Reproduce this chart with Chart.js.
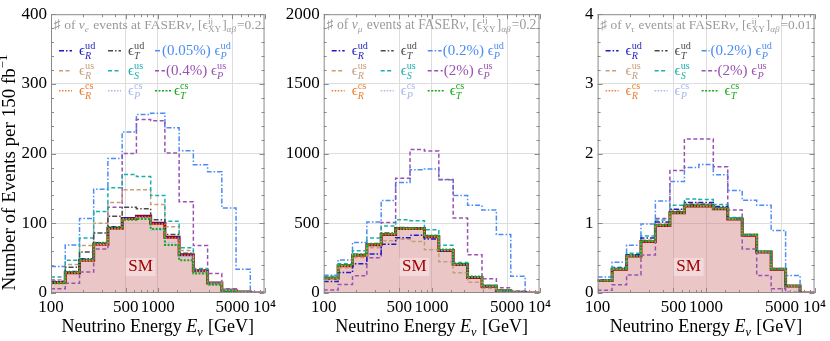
<!DOCTYPE html>
<html>
<head>
<meta charset="utf-8">
<script src="https://cdn.jsdelivr.net/npm/chart.js@4.4.1/dist/chart.umd.min.js"></script>
<style>
  html, body { margin: 0; padding: 0; background: #fff; }
  #wrap { position: relative; width: 830px; height: 341px; overflow: hidden; }
  canvas { position: absolute; top: 0; }
</style>
</head>
<body>
<div id="wrap">
  <canvas id="c1" width="280" height="341" style="left:0px"></canvas>
  <canvas id="c2" width="275" height="341" style="left:280px"></canvas>
  <canvas id="c3" width="275" height="341" style="left:555px"></canvas>
</div>
<script>
// 15 log bins from 100 GeV to 10^4 GeV
const binEdges = [100, 136, 185, 251, 341, 464, 631, 858, 1166, 1585, 2154, 2929, 3981, 5412, 7356, 10000];
const xLabelValues = [100, 500, 1000, 5000, 10000];
const xLabelTexts = ["100", "500", "1000", "5000", "10⁴"];

// nu_e events
const eSM  = [15, 29, 47, 70, 93, 107, 110, 100, 80, 55, 32, 14.5, 4, 1.5, 0];
const eRud = [16, 31, 49, 72, 95, 108, 110, 100, 80, 55, 32, 14, 4, 1.5, 0];
const eTud = [17, 37, 59, 86, 110, 123, 121, 105, 84, 57, 33, 14, 4, 1.5, 0];
const ePud = [38, 69, 107, 149, 193, 231, 256, 258, 237, 204, 184, 174, 122, 34, 0];
const eRus = [19, 41, 68, 100, 130, 148, 148, 127, 95, 61, 33, 15, 4, 1.5, 0];
const eSus = [23, 47, 79, 117, 151, 170, 167, 140, 103, 65, 35, 15, 5, 1.5, 0];
const ePus = [6, 14, 30, 63, 123, 200, 249, 247, 201, 131, 68, 28, 6, 2, 0];
const eRcs = [15, 29, 46, 69, 92, 106, 109, 99, 79, 54, 32, 14, 4, 1.5, 0];
const ePcs = [15, 29, 47, 70, 92, 106, 108, 90, 72, 52, 30, 13, 4, 1.5, 0];
const eTcs = [14, 30, 48, 72, 94, 105, 106, 92, 69, 47, 28, 12, 3, 1, 0];

// nu_mu events
const mSM  = [105, 195, 270, 347, 420, 462, 462, 404, 305, 204, 112, 49, 17, 6, 0];
const mRud = [82, 147, 210, 280, 350, 397, 415, 388, 300, 204, 113, 49, 17, 6, 0];
const mTud = [112, 200, 278, 355, 430, 470, 468, 412, 310, 208, 115, 50, 17, 6, 0];
const mPud = [128, 237, 363, 510, 664, 793, 885, 890, 812, 699, 629, 595, 420, 120, 0];
const mRus = [98, 180, 255, 325, 375, 385, 370, 310, 225, 145, 78, 33, 13, 5, 0];
const mSus = [120, 209, 303, 394, 480, 526, 519, 453, 343, 218, 115, 56, 19, 6, 0];
const mPus = [21, 61, 124, 253, 505, 824, 1030, 1018, 815, 538, 274, 102, 38, 14, 0];
const mRcs = [104, 194, 268, 345, 418, 460, 460, 402, 304, 203, 111, 48, 17, 6, 0];
const mPcs = [106, 196, 272, 349, 422, 463, 463, 405, 306, 205, 113, 49, 17, 6, 0];
const mTcs = [110, 200, 275, 352, 425, 465, 465, 410, 312, 210, 118, 52, 18, 6, 0];

// nu_tau events
const tSM  = [0.18, 0.34, 0.53, 0.74, 0.97, 1.15, 1.25, 1.25, 1.21, 1.06, 0.83, 0.59, 0.34, 0.1, 0];
const tRud = [0.185, 0.355, 0.55, 0.79, 1.02, 1.2, 1.3, 1.3, 1.24, 1.07, 0.83, 0.59, 0.34, 0.1, 0];
const tTud = [0.18, 0.345, 0.54, 0.75, 0.98, 1.17, 1.27, 1.27, 1.22, 1.06, 0.83, 0.59, 0.34, 0.1, 0];
const tPud = [0.23, 0.44, 0.685, 0.99, 1.32, 1.6, 1.8, 1.845, 1.695, 1.47, 1.33, 1.26, 0.897, 0.25, 0];
const tRus = [0.18, 0.35, 0.54, 0.76, 1.0, 1.19, 1.29, 1.28, 1.23, 1.07, 0.83, 0.59, 0.34, 0.1, 0];
const tSus = [0.19, 0.37, 0.57, 0.817, 1.047, 1.258, 1.35, 1.343, 1.27, 1.085, 0.84, 0.6, 0.35, 0.1, 0];
const tPus = [0.04, 0.12, 0.26, 0.545, 1.07, 1.756, 2.21, 2.21, 1.81, 1.19, 0.63, 0.25, 0.06, 0.01, 0];
const tRcs = [0.18, 0.34, 0.53, 0.74, 0.97, 1.15, 1.25, 1.25, 1.21, 1.06, 0.83, 0.59, 0.34, 0.1, 0];
const tPcs = [0.18, 0.34, 0.53, 0.74, 0.97, 1.15, 1.25, 1.25, 1.21, 1.06, 0.83, 0.59, 0.34, 0.1, 0];
const tTcs = [0.18, 0.345, 0.535, 0.745, 0.975, 1.155, 1.255, 1.255, 1.215, 1.065, 0.835, 0.595, 0.345, 0.1, 0];

const yMaxes = [400, 2000, 4];
const yMinorSteps = [20, 100, 0.2];
const yMajorSteps = [100, 500, 1];
const flavours = ["e", "μ", "τ"];
const couplings = ["0.2", "0.2", "0.01"];
const pctPud = ["(0.05%) ", "(0.2%) ", "(0.2%) "];
const pctPus = ["(0.4%) ", "(2%) ", "(2%) "];

const FONT = '"Liberation Serif", "DejaVu Serif", serif';

const styles = {
  SM:  { color: "#a30000", dash: [], width: 3 },
  Rud: { color: "#1c1cc4", dash: [5, 2, 1.5, 2], width: 1.5 },
  Tud: { color: "#4a4a4a", dash: [5, 2, 1.5, 2], width: 1.5 },
  Pud: { color: "#4b8cf5", dash: [5, 2, 1.5, 2], width: 1.5 },
  Rus: { color: "#c49e7a", dash: [4, 2.5], width: 1.5 },
  Sus: { color: "#1aafaf", dash: [4, 2.5], width: 1.5 },
  Pus: { color: "#9a52b2", dash: [4, 2.5], width: 1.5 },
  Rcs: { color: "#ee7d30", dash: [1.5, 1.5], width: 1.5 },
  Pcs: { color: "#a6b8ea", dash: [1.5, 1.5], width: 1.5 },
  Tcs: { color: "#17a817", dash: [2, 1.5], width: 2 }
};
// drawn bottom to top
const drawOrder = ["SM", "Pud", "Pus", "Rus", "Sus", "Tud", "Rud", "Pcs", "Rcs", "Tcs"];
const legendSub = { Rud: ["ud", "R"], Tud: ["ud", "T"], Pud: ["ud", "P"], Rus: ["us", "R"], Sus: ["us", "S"],
                    Pus: ["us", "P"], Rcs: ["cs", "R"], Pcs: ["cs", "P"], Tcs: ["cs", "T"] };
const legendRows = [["Rud", "Tud", "Pud"], ["Rus", "Sus", "Pus"], ["Rcs", "Pcs", "Tcs"]];

const panelSeries = [
  { SM: eSM, Rud: eRud, Tud: eTud, Pud: ePud, Rus: eRus, Sus: eSus, Pus: ePus, Rcs: eRcs, Pcs: ePcs, Tcs: eTcs },
  { SM: mSM, Rud: mRud, Tud: mTud, Pud: mPud, Rus: mRus, Sus: mSus, Pus: mPus, Rcs: mRcs, Pcs: mPcs, Tcs: mTcs },
  { SM: tSM, Rud: tRud, Tud: tTud, Pud: tPud, Rus: tRus, Sus: tSus, Pus: tPus, Rcs: tRcs, Pcs: tPcs, Tcs: tTcs }
];

// layout of the three panels
const yAxisWidths = [51, 43.7, 42.6];
const rightPads = [10, 10, 11];
const col3Label = [[111, 115, 123], [119, 120, 126], [113, 120, 127]];

function steps(vals) {
  return binEdges.map((e, i) => ({ x: e, y: vals[Math.min(i, vals.length - 1)] }));
}

function font(size, italic) {
  return (italic ? "italic " : "") + size + "px " + FONT;
}

// draws text made of runs: strings, {t, i}, or {sup, sub, supI, subI}
function drawRuns(ctx, x, y, runs, size, color, dry) {
  const small = size * 0.68;
  let cx = x;
  ctx.fillStyle = color;
  ctx.textBaseline = "alphabetic";
  ctx.textAlign = "left";
  for (const r of runs) {
    if (typeof r === "string" || r.t !== undefined) {
      const t = typeof r === "string" ? r : r.t;
      ctx.font = font(size, r.i);
      if (!dry) ctx.fillText(t, cx, y);
      cx += ctx.measureText(t).width;
    } else {
      let w = 0;
      if (r.sup) {
        ctx.font = font(small, r.supI);
        if (!dry) ctx.fillText(r.sup, cx, y - size * 0.42);
        w = Math.max(w, ctx.measureText(r.sup).width);
      }
      if (r.sub) {
        ctx.font = font(small, r.subI);
        if (!dry) ctx.fillText(r.sub, cx, y + size * 0.24);
        w = Math.max(w, ctx.measureText(r.sub).width);
      }
      cx += w + 1;
    }
  }
  return cx - x;
}

function makeOverlay(p) {
  return {
    id: "overlay" + p,
    afterDraw(chart) {
      const { ctx, chartArea: a, scales } = chart;
      const xs = scales.x, ys = scales.y;
      ctx.save();

      // frame and inward ticks
      ctx.strokeStyle = "#8a8a8a";
      ctx.lineWidth = 1;
      ctx.strokeRect(a.left + 0.5, a.top + 0.5, a.right - a.left - 1, a.bottom - a.top - 1);
      ctx.beginPath();
      xs.ticks.forEach(t => {
        const px = Math.round(xs.getPixelForValue(t.value)) + 0.5;
        const len = xLabelValues.includes(t.value) ? 5 : 3;
        ctx.moveTo(px, a.bottom); ctx.lineTo(px, a.bottom - len);
        ctx.moveTo(px, a.top); ctx.lineTo(px, a.top + len);
      });
      ys.ticks.forEach(t => {
        const py = Math.round(ys.getPixelForValue(t.value)) + 0.5;
        const major = Math.abs(t.value / yMajorSteps[p] - Math.round(t.value / yMajorSteps[p])) < 1e-6;
        const len = major ? 5 : 3;
        ctx.moveTo(a.left, py); ctx.lineTo(a.left + len, py);
        ctx.moveTo(a.right, py); ctx.lineTo(a.right - len, py);
      });
      ctx.stroke();

      // title line inside the frame
      const titleRuns = ["♯ of ", { t: "ν", i: true }, { sub: flavours[p], subI: true }, " events at FASER",
        { t: "ν", i: true }, ", [ϵ", { sup: "ij", sub: "XY" }, "]", { sub: "αβ", subI: true }, "=" + couplings[p]];
      const tw = drawRuns(ctx, 0, 0, titleRuns, 14, "#000", true);
      const tsize = 14 * (a.right - a.left - 6) / tw;
      drawRuns(ctx, a.left + 3, a.top + 15, titleRuns, tsize, "#9a9a9a");

      // legend
      const rowY = [36, 56, 76];
      legendRows.forEach((row, r) => {
        row.forEach((key, c) => {
          const st = styles[key];
          const yc = a.top + rowY[r];
          let s0, s1, lx;
          if (c === 0) { s0 = 8; s1 = 21; lx = 28; }
          else if (c === 1) { s0 = 57; s1 = 70; lx = 77; }
          else { s0 = 104; lx = col3Label[p][r]; s1 = r === 2 ? 120 : lx - 1; }
          ctx.strokeStyle = st.color;
          ctx.lineWidth = 1.5;
          ctx.setLineDash(st.dash);
          ctx.beginPath();
          ctx.moveTo(a.left + s0, yc + 0.5); ctx.lineTo(a.left + s1, yc + 0.5);
          ctx.stroke();
          ctx.setLineDash([]);
          const sub = legendSub[key];
          const runs = [];
          if (key === "Pud") runs.push(pctPud[p]);
          if (key === "Pus") runs.push(pctPus[p]);
          runs.push("ϵ", { sup: sub[0], sub: sub[1], subI: true });
          drawRuns(ctx, a.left + lx, yc + 5, runs, 15, st.color);
        });
      });

      // SM label
      ctx.font = font(17, false);
      ctx.textAlign = "center";
      ctx.textBaseline = "middle";
      const sx = xs.getPixelForValue(690), sy = a.bottom - 26;
      ctx.fillStyle = "rgba(255,255,255,0.35)";
      ctx.fillRect(sx - 15, sy - 9, 30, 18);
      ctx.fillStyle = "#a30000";
      ctx.fillText("SM", sx, sy);

      // x axis title
      const xr = ["Neutrino Energy ", { t: "E", i: true }, { sub: "ν", subI: true }, " [GeV]"];
      const xw = drawRuns(ctx, 0, 0, xr, 18, "#000", true);
      drawRuns(ctx, (a.left + a.right) / 2 - xw / 2, 332, xr, 18, "#000");

      // y axis title (left panel only)
      if (p === 0) {
        ctx.translate(15, 172);
        ctx.rotate(-Math.PI / 2);
        const yr = ["Number of Events per 150 fb", { sup: "−1" }];
        const yw = drawRuns(ctx, 0, 0, yr, 19, "#000", true);
        drawRuns(ctx, -yw / 2, 0, yr, 19, "#000");
      }
      ctx.restore();
    }
  };
}

function buildChart(p) {
  const series = panelSeries[p];
  const datasets = drawOrder.map((key, i) => {
    const st = styles[key];
    return {
      label: key,
      data: steps(series[key]),
      stepped: true,
      borderColor: st.color,
      borderWidth: st.width,
      borderDash: st.dash,
      pointRadius: 0,
      fill: key === "SM" ? "origin" : false,
      backgroundColor: key === "SM" ? "rgba(205,120,120,0.42)" : "transparent",
      order: drawOrder.length - i
    };
  });
  const majorY = v => Math.abs(v / yMajorSteps[p] - Math.round(v / yMajorSteps[p])) < 1e-6;
  return new Chart(document.getElementById("c" + (p + 1)), {
    type: "line",
    data: { datasets },
    options: {
      responsive: false,
      animation: false,
      devicePixelRatio: 1,
      layout: { padding: { left: 0, right: rightPads[p], top: 12, bottom: 0 } },
      plugins: { legend: { display: false }, tooltip: { enabled: false } },
      scales: {
        x: {
          type: "logarithmic",
          min: 100,
          max: 10000,
          afterFit(s) { s.height = 48; },
          border: { display: false },
          grid: {
            drawTicks: false,
            color: c => [500, 1000, 5000].includes(c.tick && c.tick.value) ? "#dddddd" : "transparent"
          },
          ticks: {
            autoSkip: false,
            maxRotation: 0,
            padding: 4,
            color: "#000",
            font: { family: FONT, size: 17 },
            callback: v => {
              const i = xLabelValues.indexOf(v);
              return i >= 0 ? xLabelTexts[i] : "";
            }
          }
        },
        y: {
          min: 0,
          max: yMaxes[p],
          afterFit(s) { s.width = yAxisWidths[p]; },
          border: { display: false },
          grid: {
            drawTicks: false,
            color: c => (c.tick && majorY(c.tick.value) && c.tick.value > 0 && c.tick.value < yMaxes[p]) ? "#dddddd" : "transparent"
          },
          ticks: {
            autoSkip: false,
            stepSize: yMinorSteps[p],
            padding: 4,
            color: "#000",
            font: { family: FONT, size: 17 },
            callback: v => majorY(v) ? String(Math.round(v)) : ""
          }
        }
      }
    },
    plugins: [makeOverlay(p)]
  });
}

[0, 1, 2].forEach(buildChart);
</script>
</body>
</html>
